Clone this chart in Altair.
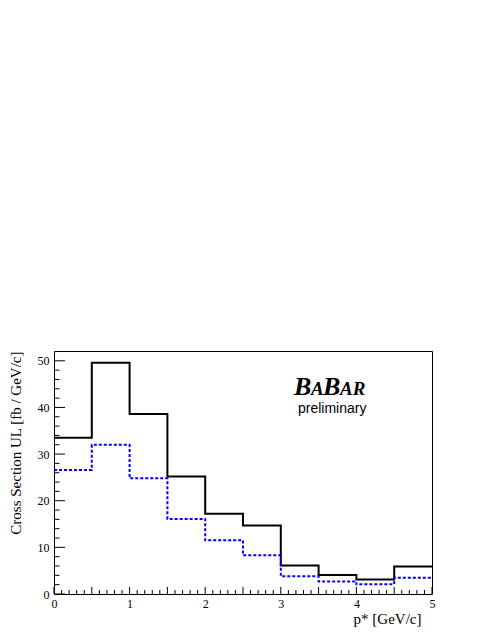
import altair as alt
import pandas as pd

# Bin edges (p* in GeV/c) and histogram contents
edges = [0.0, 0.5, 1.0, 1.5, 2.0, 2.5, 3.0, 3.5, 4.0, 4.5, 5.0]
black_vals = [33.5, 49.6, 38.6, 25.2, 17.2, 14.7, 6.1, 4.1, 3.1, 5.9]
blue_vals = [26.6, 32.0, 24.8, 16.1, 11.5, 8.3, 3.8, 2.7, 2.1, 3.5]

# Tick positions
x_major = [0, 0.5, 1, 1.5, 2, 2.5, 3, 3.5, 4, 4.5, 5]
x_minor = [0.1, 0.2, 0.3, 0.4, 0.6, 0.7, 0.8, 0.9, 1.1, 1.2, 1.3, 1.4,
           1.6, 1.7, 1.8, 1.9, 2.1, 2.2, 2.3, 2.4, 2.6, 2.7, 2.8, 2.9,
           3.1, 3.2, 3.3, 3.4, 3.6, 3.7, 3.8, 3.9, 4.1, 4.2, 4.3, 4.4,
           4.6, 4.7, 4.8, 4.9]
y_major = [0, 10, 20, 30, 40, 50]
y_minor = [2, 4, 6, 8, 12, 14, 16, 18, 22, 24, 26, 28, 32, 34, 36, 38,
           42, 44, 46, 48]

W, H = 378, 243
SERIF = "Liberation Serif"

black_df = pd.DataFrame({"x": edges, "y": black_vals + [black_vals[-1]]})
blue_df = pd.DataFrame({"x": edges, "y": blue_vals + [blue_vals[-1]]})

xscale = alt.Scale(domain=[0, 5], nice=False, zero=False)
yscale = alt.Scale(domain=[0, 52.1], nice=False, zero=False)

x_axis = alt.Axis(values=x_major, format="~g", ticks=False, domain=False, grid=False,
                  labelFont=SERIF, labelFontSize=12, labelColor="black",
                  labelPadding=4, labelFlush=False, labelOverlap=False,
                  title="p* [GeV/c]", titleFont=SERIF, titleFontSize=15,
                  titleFontWeight="normal", titleColor="black",
                  titleAlign="right", titleAnchor="end", titleBaseline="alphabetic",
                  titleX=367, titleY=29)
y_axis = alt.Axis(values=y_major, format="d", ticks=False, domain=False, grid=False,
                  labelFont=SERIF, labelFontSize=12, labelColor="black",
                  labelPadding=5, labelFlush=False, labelOverlap=False,
                  title="Cross Section UL [fb / GeV/c]", titleFont=SERIF,
                  titleFontSize=15, titleFontWeight="normal", titleColor="black",
                  titleAngle=-90, titleAlign="right", titleAnchor="end",
                  titleBaseline="alphabetic", titleX=-34, titleY=0)

black_line = alt.Chart(black_df).mark_line(
    interpolate="step-after", color="black", strokeWidth=2
).encode(x=alt.X("x:Q", scale=xscale, axis=x_axis),
         y=alt.Y("y:Q", scale=yscale, axis=y_axis))

blue_line = alt.Chart(blue_df).mark_line(
    interpolate="step-after", color="#0000ff", strokeWidth=2, strokeDash=[3, 2]
).encode(x=alt.X("x:Q", scale=xscale), y=alt.Y("y:Q", scale=yscale))

ytm = alt.Chart(pd.DataFrame({"y": y_major})).mark_rule(color="black", strokeWidth=1).encode(
    y=alt.Y("y:Q", scale=yscale), x=alt.value(0), x2=alt.value(11))
ytn = alt.Chart(pd.DataFrame({"y": y_minor})).mark_rule(color="black", strokeWidth=1).encode(
    y=alt.Y("y:Q", scale=yscale), x=alt.value(0), x2=alt.value(5.5))
xtm = alt.Chart(pd.DataFrame({"x": x_major})).mark_rule(color="black", strokeWidth=1).encode(
    x=alt.X("x:Q", scale=xscale), y=alt.value(H), y2=alt.value(H - 7))
xtn = alt.Chart(pd.DataFrame({"x": x_minor})).mark_rule(color="black", strokeWidth=1).encode(
    x=alt.X("x:Q", scale=xscale), y=alt.value(H), y2=alt.value(H - 4))

logo_pieces = [("B", 240, 26), ("A", 257, 19), ("B", 269, 26), ("AR", 286, 19)]
logo_layers = []
for txt, px, fs in logo_pieces:
    logo_layers.append(
        alt.Chart(pd.DataFrame({"t": [txt]})).mark_text(
            font=SERIF, fontSize=fs, fontStyle="italic", fontWeight="bold",
            align="left", baseline="alphabetic", color="black"
        ).encode(text="t:N", x=alt.value(px), y=alt.value(44))
    )
prelim = alt.Chart(pd.DataFrame({"t": ["preliminary"]})).mark_text(
    font="Liberation Sans", fontSize=14, align="left", baseline="alphabetic",
    color="black"
).encode(text="t:N", x=alt.value(244), y=alt.value(62))

chart = alt.layer(
    black_line, blue_line, ytm, ytn, xtm, xtn, *logo_layers, prelim
).properties(
    width=W, height=H,
    autosize="none",
    padding={"left": 46, "top": 343, "right": 51, "bottom": 33},
    background="white",
).configure_view(stroke="black", strokeWidth=1)

chart.save("out.html", embed_options={"renderer": "svg", "actions": False})
